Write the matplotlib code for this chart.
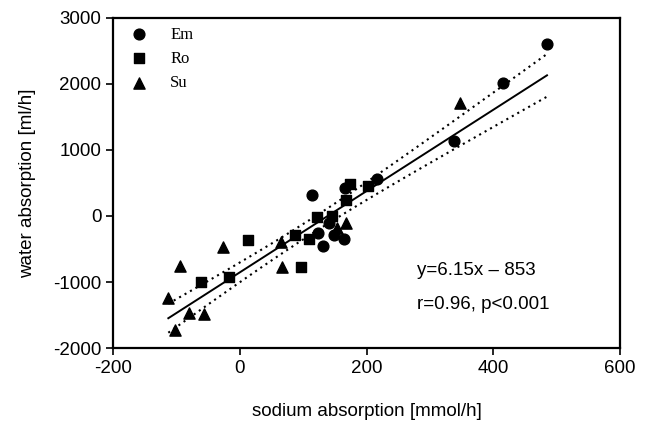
import numpy as np
import matplotlib.pyplot as plt

# sodium absorption [mmol/h], water absorption [ml/h]
EM_X = [485, 415, 338, 217, 166, 165, 149, 141, 131, 123, 114]
EM_Y = [2606, 2020, 1141, 565, 420, -353, -288, -111, -455, -253, 313]
RO_X = [-62, -17, 13, 87, 97, 109, 122, 146, 168, 174, 202]
RO_Y = [-1000, -920, -370, -290, -770, -353, -10, 0, 242, 490, 455]
SU_X = [-113, -102, -94, -81, -56, -27, 65, 66, 153, 168, 347]
SU_Y = [-1240, -1730, -760, -1475, -1490, -470, -390, -770, -187, -111, 1717]

SLOPE = 6.15
INTERCEPT = -853
T_VAL = 2.04

plt.rcParams['font.family'] = ['Liberation Sans', 'DejaVu Sans']
plt.rcParams['axes.unicode_minus'] = False

fig = plt.figure(figsize=(6.47, 4.25), dpi=100)
ax = fig.add_axes([0.175, 0.181, 0.783, 0.777])

ax.scatter(EM_X, EM_Y, marker='o', s=60, color='black', label='Em', zorder=3)
ax.scatter(RO_X, RO_Y, marker='s', s=55, color='black', label='Ro', zorder=3)
ax.scatter(SU_X, SU_Y, marker='^', s=65, color='black', label='Su', zorder=3)

# regression line and 95% confidence band of the mean
x_all = np.array(EM_X + RO_X + SU_X, dtype=float)
y_all = np.array(EM_Y + RO_Y + SU_Y, dtype=float)
n = len(x_all)
resid = y_all - (SLOPE * x_all + INTERCEPT)
s = np.sqrt(np.sum(resid ** 2) / (n - 2))
xm = x_all.mean()
sxx = np.sum((x_all - xm) ** 2)

xs = np.linspace(x_all.min(), x_all.max(), 200)
yfit = SLOPE * xs + INTERCEPT
half = T_VAL * s * np.sqrt(1.0 / n + (xs - xm) ** 2 / sxx)

ax.plot(xs, yfit, color='black', lw=1.4)
ax.plot(xs, yfit + half, color='black', lw=1.5, ls=(0, (1, 2)))
ax.plot(xs, yfit - half, color='black', lw=1.5, ls=(0, (1, 2)))

ax.set_xlim(-200, 600)
ax.set_ylim(-2000, 3000)
ax.set_xticks([-200, 0, 200, 400, 600])
ax.set_yticks([-2000, -1000, 0, 1000, 2000, 3000])
ax.tick_params(direction='out', length=5, width=1.2, labelsize=13.5, colors='black')
for sp in ax.spines.values():
    sp.set_linewidth(1.6)

ax.set_xlabel('sodium absorption [mmol/h]', fontsize=13.5, labelpad=19)
ax.set_ylabel('water absorption [ml/h]', fontsize=13.5, labelpad=12)

ax.text(0.6, 0.236, 'y=6.15x \u2013 853', transform=ax.transAxes, fontsize=13.5, va='center')
ax.text(0.6, 0.133, 'r=0.96, p<0.001', transform=ax.transAxes, fontsize=13.5, va='center')

leg = ax.legend(loc='upper left', frameon=False, prop={'family': 'Liberation Serif', 'size': 12},
                handletextpad=0.9, labelspacing=0.5, borderaxespad=0.12)

fig.savefig('out.png', dpi=100)
